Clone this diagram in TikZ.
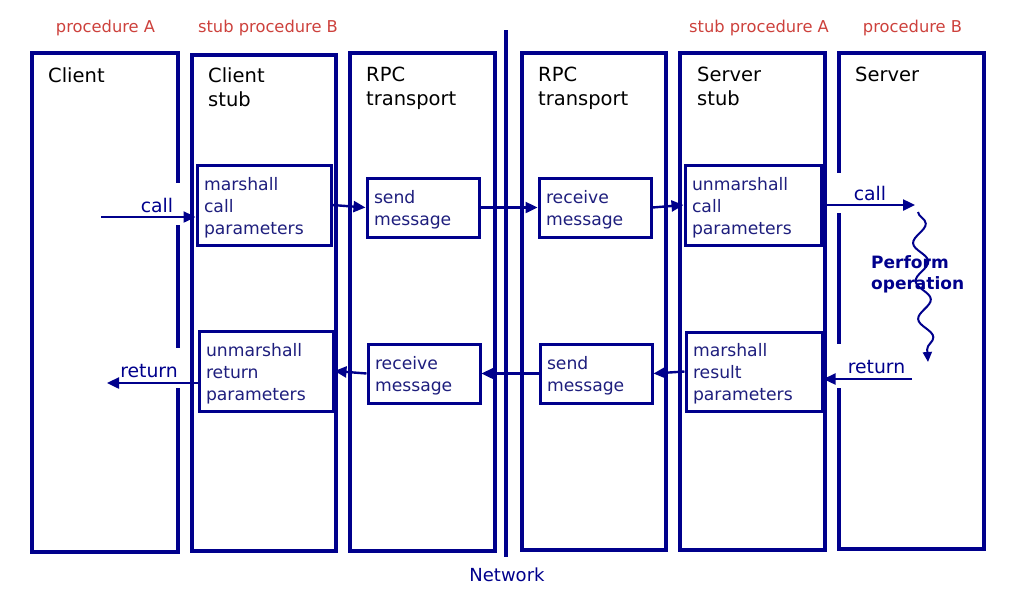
\documentclass[tikz,border=0pt]{standalone}
\usepackage{fontspec}
\setmainfont{DejaVu Sans}
\usetikzlibrary{arrows.meta,decorations.pathmorphing}
\definecolor{nv}{RGB}{0,0,140}
\definecolor{nvtext}{RGB}{30,30,125}
\definecolor{hdrred}{RGB}{205,65,60}
\newcommand{\topstrut}{\rule{0pt}{18pt}}
\begin{document}
\begin{tikzpicture}[x=1pt,y=-1pt,
  col/.style={draw=nv,line width=3.2pt,inner sep=0pt},
  inbox/.style={draw=nv,line width=3pt,inner sep=0pt,align=left,text=nvtext,font=\fontsize{17.2}{22}\selectfont},
  ttl/.style={anchor=north west,inner sep=0pt,align=left,font=\fontsize{19.5}{24}\selectfont},
  hdr/.style={anchor=base,inner sep=0pt,text=hdrred,font=\fontsize{16.3}{20}\selectfont},
  lbl/.style={anchor=base,inner sep=0pt,text=nv,font=\fontsize{18.8}{22}\selectfont},
  arr/.style={draw=nv,line width=2.4pt,-{Triangle[length=12pt,width=11pt]}},
  gap/.style={fill=white,draw=none},
]
\useasboundingbox (0,0) rectangle (1017,595);

% headers
\node[hdr] (hA) at (105.5,32) {procedure A};
\node[hdr] (hsB) at (268,32) {stub procedure B};
\node[hdr] (hsA) at (759,32) {stub procedure A};
\node[hdr] (hB) at (912.5,32) {procedure B};

% network line
\coordinate (nt) at (506,30);
\coordinate (nb) at (506,557);
\draw[nv,line width=4pt] (nt) -- (nb);
\node[anchor=base,inner sep=0pt,text=nv,font=\fontsize{18}{22}\selectfont] (net) at (507,581) {Network};

% columns
\node[col,minimum width=146pt,minimum height=499pt] (client) at (105,302.5) {};
\node[col,minimum width=144pt,minimum height=496pt] (cstub) at (264,303) {};
\node[col,minimum width=145pt,minimum height=498pt] (rpcA) at (422.5,302) {};
\node[col,minimum width=144pt,minimum height=497pt] (rpcB) at (594,301.5) {};
\node[col,minimum width=145pt,minimum height=497pt] (sstub) at (752.5,301.5) {};
\node[col,minimum width=145pt,minimum height=496pt] (server) at (911.5,301) {};

% gaps in edges
\fill[gap] (174,183) rectangle (182,225);
\fill[gap] (174,348) rectangle (182,388);
\fill[gap] (835,173) rectangle (843,213);
\fill[gap] (835,344) rectangle (843,388);

% titles
\node[ttl] (tclient) at (48,67) {Client};
\node[ttl] (tcstub) at (208,67) {Client\\stub};
\node[ttl] (trpcA) at (366,67) {RPC\\transport};
\node[ttl] (trpcB) at (538,67) {RPC\\transport};
\node[ttl] (tsstub) at (697,67) {Server\\stub};
\node[ttl] (tserver) at (855,67) {Server};

% inner boxes
\node[inbox,minimum width=134pt,minimum height=80pt,text width=120pt] (mcp) at (264,205) {\topstrut marshall\\call\\parameters};
\node[inbox,minimum width=112pt,minimum height=59pt,text width=98pt] (sendA) at (423,207.5) {\topstrut send\\message};
\node[inbox,minimum width=112pt,minimum height=59pt,text width=98pt] (recvB) at (595,207.5) {\topstrut receive\\message};
\node[inbox,minimum width=136pt,minimum height=80pt,text width=122pt] (ucp) at (753,205) {\topstrut unmarshall\\call\\parameters};
\node[inbox,minimum width=134pt,minimum height=80pt,text width=120pt] (urp) at (266,371) {\topstrut unmarshall\\return\\parameters};
\node[inbox,minimum width=112pt,minimum height=59pt,text width=98pt] (recvA) at (424,373.5) {\topstrut receive\\message};
\node[inbox,minimum width=112pt,minimum height=59pt,text width=98pt] (sendB) at (596,373.5) {\topstrut send\\message};
\node[inbox,minimum width=136pt,minimum height=79pt,text width=122pt] (mrp) at (754,371.5) {\topstrut marshall\\result\\parameters};

% call path
\coordinate (callL) at (101,217);
\coordinate (callR) at (915,205);
\draw[arr] (callL) -- (mcp.west |- callL);
\node[lbl] (lcallL) at (157,212) {call};
\draw[arr] (mcp.east) -- (sendA.west);
\draw[arr] (sendA.east) -- (recvB.west);
\draw[arr] (recvB.east) -- (ucp.west);
\draw[arr] (ucp.east) -- (callR);
\node[lbl] (lcallR) at (870,200) {call};

% perform operation
\coordinate (ws) at (918,212);
\coordinate (we) at (928,362);
\draw[nv,line width=2pt,-{Triangle[length=10pt,width=9pt]},decorate,decoration={snake,amplitude=7pt,segment length=38pt,post length=12pt}] (ws) -- (we);
\node[anchor=north west,inner sep=0pt,align=left,text=nv,font=\bfseries\fontsize{17}{21}\selectfont] (perf) at (871,255) {Perform\\operation};

% return path
\coordinate (retR) at (912,379);
\coordinate (retL) at (107,383);
\draw[arr] (retR) -- (mrp.east |- retR);
\node[lbl] (lretR) at (876.5,373) {return};
\draw[arr] (mrp.west) -- (sendB.east);
\draw[arr] (sendB.west) -- (recvA.east);
\draw[arr] (recvA.west) -- (urp.east);
\draw[arr] (urp.west |- retL) -- (retL);
\node[lbl] (lretL) at (149,377) {return};
\end{tikzpicture}
\end{document}
